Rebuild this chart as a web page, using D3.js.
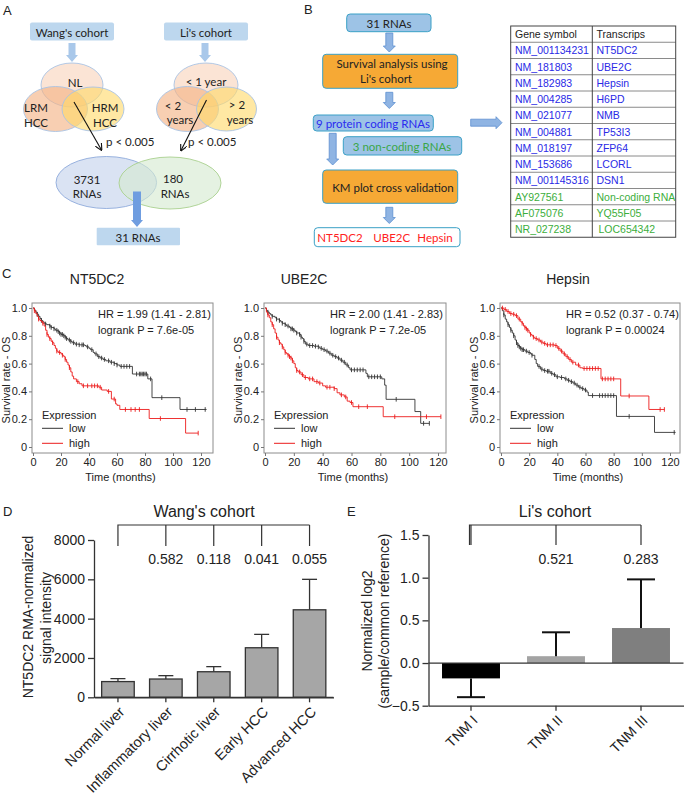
<!DOCTYPE html>
<html><head><meta charset="utf-8">
<script src="https://cdn.jsdelivr.net/npm/d3@7"></script>
<style>body{margin:0;background:#fff}svg{display:block}</style>
</head><body>
<svg id="c" width="685" height="793"></svg>
<script>
// ---------------- DATA ----------------
// Panel B table
const geneSymbols = ["NM_001134231","NM_181803","NM_182983","NM_004285","NM_021077","NM_004881","NM_018197","NM_153686","NM_001145316","AY927561","AF075076","NR_027238"];
const transcripts = ["NT5DC2","UBE2C","Hepsin","H6PD","NMB","TP53I3","ZFP64","LCORL","DSN1","Non-coding RNA","YQ55F05","LOC654342"];
const codingFlags = [1,1,1,1,1,1,1,1,1,0,0,0];

// Panel C: Kaplan-Meier step points [time (months), survival]
const kmTicksY = [0,0.2,0.4,0.6,0.8,1.0];
const kmTicksX = [0,20,40,60,80,100,120];
const kmTitles = ["NT5DC2","UBE2C","Hepsin"];
const kmHR = ["HR = 1.99 (1.41 - 2.81)","HR = 2.00 (1.41 - 2.83)","HR = 0.52 (0.37 - 0.74)"];
const kmP = ["logrank P = 7.6e-05","logrank P = 7.2e-05","logrank P = 0.00024"];

const nt5dc2Low = [[0,1],[1,0.985],[2,0.97],[3,0.955],[4,0.94],[5,0.925],[6,0.91],[7,0.9],[8,0.89],[9,0.885],[10,0.88],[12,0.87],[13,0.86],[15,0.85],[16,0.84],[18,0.83],[19,0.82],[20,0.81],[22,0.8],[23,0.79],[24,0.78],[25,0.77],[27,0.76],[28,0.75],[30,0.74],[33,0.735],[37,0.73],[38,0.72],[40,0.71],[41,0.7],[43,0.68],[44,0.67],[46,0.65],[48,0.64],[50,0.63],[52,0.62],[55,0.61],[58,0.6],[60,0.59],[62,0.58],[71,0.525],[82,0.49],[85,0.355],[105,0.27],[124,0.27]];
const nt5dc2High = [[0,1],[1,0.98],[2,0.96],[3,0.94],[4,0.92],[5,0.91],[6,0.9],[7,0.89],[8,0.87],[9,0.84],[10,0.81],[11,0.79],[12,0.78],[13,0.76],[14,0.75],[15,0.73],[16,0.71],[17,0.69],[18,0.68],[20,0.67],[21,0.66],[22,0.65],[23,0.63],[24,0.61],[25,0.59],[26,0.57],[27,0.54],[28,0.51],[29,0.49],[31,0.47],[33,0.455],[35,0.44],[47,0.43],[49,0.41],[53,0.4],[56,0.345],[59,0.31],[60,0.3],[62,0.27],[83,0.205],[109,0.1],[118,0.1]];
const nt5dc2LowCens = [3,6,9,12,13,15,17,18,19,20,21,22,23,24,26,27,29,31,33,35,36,39,42,45,47,49,51,54,56,58,60,63,65,67,69,74,76,77,78,79,80,81,84,92,110,116,123];
const nt5dc2HighCens = [1,4,7,10,12,14,17,19,21,23,26,32,36,39,42,44,46,48,54,58,66,70,73,76,91,118];

const ube2cLow = [[0,1],[1,0.98],[2,0.97],[3,0.96],[4,0.95],[5,0.94],[7,0.93],[8,0.92],[10,0.91],[11,0.9],[12,0.89],[14,0.88],[15,0.87],[17,0.86],[18,0.85],[20,0.84],[21,0.83],[22,0.82],[24,0.81],[25,0.79],[26,0.78],[27,0.76],[28,0.74],[30,0.73],[34,0.725],[37,0.72],[38,0.71],[40,0.7],[42,0.69],[44,0.675],[46,0.66],[48,0.65],[50,0.64],[52,0.625],[54,0.61],[56,0.59],[58,0.57],[59,0.555],[70,0.53],[71,0.505],[81,0.49],[83,0.445],[84,0.343],[104,0.255],[108,0.17],[114,0.17]];
const ube2cHigh = [[0,1],[1,0.97],[2,0.95],[3,0.93],[4,0.9],[5,0.88],[6,0.85],[7,0.82],[8,0.79],[9,0.77],[10,0.75],[11,0.74],[12,0.72],[13,0.7],[14,0.68],[15,0.67],[16,0.66],[17,0.65],[18,0.64],[19,0.62],[20,0.6],[21,0.57],[22,0.55],[23,0.54],[25,0.52],[27,0.5],[30,0.49],[34,0.47],[37,0.46],[40,0.44],[42,0.43],[48,0.42],[50,0.39],[52,0.375],[55,0.36],[57,0.33],[59,0.32],[61,0.29],[82,0.218],[122,0.218]];
const ube2cLowCens = [2,5,8,10,12,14,16,18,19,20,22,24,25,27,29,31,33,35,37,39,41,43,45,47,49,51,53,55,57,60,62,64,66,68,72,74,76,78,80,91,110,114];
const ube2cHighCens = [2,5,8,10,12,14,16,17,18,19,22,24,26,28,31,33,36,38,43,45,48,53,56,60,65,71,90,112,122];

const hepsinLow = [[0,1],[1,0.98],[2,0.95],[3,0.92],[4,0.9],[5,0.88],[6,0.86],[7,0.84],[8,0.82],[9,0.8],[10,0.77],[11,0.75],[12,0.73],[13,0.72],[14,0.71],[15,0.7],[17,0.69],[19,0.68],[21,0.67],[22,0.66],[24,0.63],[25,0.6],[26,0.58],[28,0.56],[30,0.55],[32,0.545],[35,0.53],[37,0.52],[39,0.505],[42,0.5],[45,0.49],[47,0.48],[49,0.47],[51,0.46],[53,0.445],[55,0.43],[57,0.42],[59,0.41],[61,0.395],[62,0.37],[82,0.22],[109,0.105],[124,0.105]];
const hepsinHigh = [[0,1],[2,0.99],[4,0.975],[6,0.96],[8,0.955],[10,0.945],[12,0.92],[14,0.9],[15,0.89],[16,0.87],[17,0.86],[18,0.85],[19,0.84],[20,0.82],[21,0.81],[22,0.8],[23,0.79],[24,0.78],[26,0.77],[28,0.755],[30,0.745],[32,0.735],[38,0.73],[40,0.71],[42,0.69],[44,0.67],[46,0.65],[48,0.63],[50,0.61],[53,0.59],[56,0.57],[58,0.565],[71,0.49],[85,0.367],[105,0.27],[116,0.27]];
const hepsinLowCens = [2,5,7,9,11,12,13,14,15,16,18,20,22,27,29,31,33,34,36,38,40,43,46,48,50,52,54,56,58,60,65,70,72,74,76,78,80,91,123];
const hepsinHighCens = [1,3,5,7,9,11,13,15,17,18,19,21,23,25,27,29,31,33,35,37,39,41,43,45,47,49,51,55,59,61,63,65,67,69,72,74,76,78,80,91,113,116];

// Panel D
const dCategories = ["Normal liver","Inflammatory liver","Cirrhotic liver","Early HCC","Advanced HCC"];
const dMeans = [800, 930, 1300, 2520, 4450];
const dErrors = [150, 170, 260, 680, 1550];
const dPValues = ["", "0.582", "0.118", "0.041", "0.055"];
const dTicks = [0, 2000, 4000, 6000, 8000];

// Panel E
const eCategories = ["TNM I","TNM II","TNM III"];
const eMeans = [-0.18, 0.08, 0.41];
const eErrors = [0.22, 0.28, 0.57];
const ePValues = ["", "0.521", "0.283"];
const eTicks = [-0.5, 0, 0.5, 1.0, 1.5];

// ---------------- DRAWING ----------------
const svg = d3.select("#c");
const AR = "'Liberation Sans', Arial, sans-serif";
const FL = "Lato, 'Open Sans', sans-serif";

function txt(g, x, y, s, o = {}) {
  return g.append("text").attr("x", x).attr("y", y).text(s)
    .attr("font-family", o.f || AR).attr("font-size", o.s || 12)
    .attr("fill", o.c || "#222").attr("text-anchor", o.a || "start")
    .attr("dominant-baseline", o.b || "central");
}
function downArrow(g, cx, y1, y2, fill, sw = 7, hw = 12, hl = 7, stroke = "none") {
  const p = `M${cx - sw/2},${y1}L${cx + sw/2},${y1}L${cx + sw/2},${y2 - hl}L${cx + hw/2},${y2 - hl}L${cx},${y2}L${cx - hw/2},${y2 - hl}L${cx - sw/2},${y2 - hl}Z`;
  g.append("path").attr("d", p).attr("fill", fill).attr("stroke", stroke).attr("stroke-width", 0.8);
}
function rightArrow(g, x1, x2, cy, fill, sw = 7, hw = 12, hl = 7, stroke = "none") {
  const p = `M${x1},${cy - sw/2}L${x2 - hl},${cy - sw/2}L${x2 - hl},${cy - hw/2}L${x2},${cy}L${x2 - hl},${cy + hw/2}L${x2 - hl},${cy + sw/2}L${x1},${cy + sw/2}Z`;
  g.append("path").attr("d", p).attr("fill", fill).attr("stroke", stroke).attr("stroke-width", 0.8);
}

// Panel letters
txt(svg, 3, 10, "A", {s: 13});
txt(svg, 304, 9, "B", {s: 13});
txt(svg, 2, 273, "C", {s: 13});
txt(svg, 3, 511, "D", {s: 13});
txt(svg, 347, 511, "E", {s: 13});

svg.append("defs").append("marker").attr("id", "ah").attr("viewBox", "0 0 10 10")
  .attr("refX", 9).attr("refY", 5).attr("markerWidth", 7).attr("markerHeight", 7)
  .attr("orient", "auto").attr("markerUnits", "userSpaceOnUse")
  .append("path").attr("d", "M0,0L10,5L0,10").attr("fill", "none").attr("stroke", "#111").attr("stroke-width", 1.6);

// ---- Panel A ----
const A = svg.append("g");
const lightBlue = "#bdd7ee";
A.append("rect").attr("x", 30).attr("y", 22.5).attr("width", 84).attr("height", 18).attr("rx", 2).attr("fill", lightBlue);
txt(A, 72, 32, "Wang's cohort", {f: FL, s: 11.5, a: "middle"});
A.append("rect").attr("x", 164).attr("y", 22.5).attr("width", 84).attr("height", 18).attr("rx", 2).attr("fill", lightBlue);
txt(A, 206, 32, "Li's cohort", {f: FL, s: 11.5, a: "middle"});
downArrow(A, 72, 43, 62, "#a9c8ea");
downArrow(A, 205, 43, 62, "#a9c8ea");

function ell(g, cx, cy, rx, ry, fill, op, stroke) {
  g.append("ellipse").attr("cx", cx).attr("cy", cy).attr("rx", rx).attr("ry", ry)
    .attr("fill", fill).attr("fill-opacity", op).attr("stroke", stroke).attr("stroke-width", 0.9);
}
ell(A, 72, 85, 31, 22, "#fbe4d5", 1, "#a9c3e3");
ell(A, 55.5, 109, 32, 22.5, "#f4b183", 0.62, "#a9c3e3");
ell(A, 93, 109, 31, 22, "#ffd966", 0.6, "#a9c3e3");
txt(A, 75, 82, "NL", {f: FL, s: 11.5, a: "middle"});
txt(A, 36, 107, "LRM", {f: FL, s: 11.5, a: "middle"});
txt(A, 36, 122, "HCC", {f: FL, s: 11.5, a: "middle"});
txt(A, 105, 107, "HRM", {f: FL, s: 11.5, a: "middle"});
txt(A, 105, 122, "HCC", {f: FL, s: 11.5, a: "middle"});

ell(A, 206, 85, 32, 22, "#fbe4d5", 1, "#a9c3e3");
ell(A, 187.5, 109, 31, 22.5, "#f4b183", 0.62, "#a9c3e3");
ell(A, 226.5, 109, 30, 22, "#ffd966", 0.6, "#a9c3e3");
txt(A, 206, 81, "< 1 year", {f: FL, s: 11.5, a: "middle"});
txt(A, 173, 105, "< 2", {f: FL, s: 11.5, a: "middle"});
txt(A, 180, 119, "years", {f: FL, s: 11.5, a: "middle"});
txt(A, 237, 104, "> 2", {f: FL, s: 11.5, a: "middle"});
txt(A, 240, 119, "years", {f: FL, s: 11.5, a: "middle"});

A.append("line").attr("x1", 74).attr("y1", 102).attr("x2", 101.5).attr("y2", 150).attr("stroke", "#111").attr("stroke-width", 1.1).attr("marker-end", "url(#ah)");
A.append("line").attr("x1", 206.5).attr("y1", 100).attr("x2", 181).attr("y2", 150.5).attr("stroke", "#111").attr("stroke-width", 1.1).attr("marker-end", "url(#ah)");
txt(A, 106, 141.5, "p < 0.005", {f: FL, s: 11.5});
txt(A, 188, 141.5, "p < 0.005", {f: FL, s: 11.5});

ell(A, 106.3, 182.5, 50.3, 26, "#dae3f3", 1, "#8eaadb");
ell(A, 170, 183, 51, 26, "#d5ead0", 0.62, "#a9d08e");
txt(A, 87, 179.5, "3731", {f: FL, s: 11.5, a: "middle"});
txt(A, 87, 193.5, "RNAs", {f: FL, s: 11.5, a: "middle"});
txt(A, 173, 178, "180", {f: FL, s: 11.5, a: "middle"});
txt(A, 175, 193, "RNAs", {f: FL, s: 11.5, a: "middle"});
downArrow(A, 137, 191.5, 227, "#6f9de0", 8, 12, 7);
A.append("rect").attr("x", 96.7).attr("y", 227.7).attr("width", 83.3).attr("height", 17.5).attr("rx", 1).attr("fill", lightBlue);
txt(A, 138, 237, "31  RNAs", {f: FL, s: 11.5, a: "middle"});

// ---- Panel B ----
const B = svg.append("g");
const bBlue = "#9dc3e6", teal = "#3aa0c6", orange = "#f6a935", arrowFill = "#8fb4e3", arrowStroke = "#5d8fd0";
function box(g, x, y, w, h, fill) {
  g.append("rect").attr("x", x).attr("y", y).attr("width", w).attr("height", h).attr("rx", 3.5)
    .attr("fill", fill).attr("stroke", teal).attr("stroke-width", 1);
}
box(B, 346.7, 14, 84.3, 17.7, bBlue);
txt(B, 389, 23, "31 RNAs", {f: FL, s: 11.5, a: "middle"});
downArrow(B, 389.3, 33, 52, arrowFill, 7, 12, 6, arrowStroke);
box(B, 322.7, 54.3, 135, 34, orange);
txt(B, 392, 63.5, "Survival analysis using", {f: FL, s: 11.5, a: "middle"});
txt(B, 386, 78.5, "Li's cohort", {f: FL, s: 11.5, a: "middle"});
downArrow(B, 389.3, 92.3, 108.5, arrowFill, 7, 12, 6, arrowStroke);
box(B, 313.3, 115, 120, 16, bBlue);
txt(B, 373, 123, "9 protein coding RNAs", {f: FL, s: 11.5, a: "middle", c: "#2b2bf0"});
box(B, 343.3, 136.7, 118.4, 18.3, bBlue);
txt(B, 402, 146, "3 non-coding RNAs", {f: FL, s: 11.5, a: "middle", c: "#3aa648"});
downArrow(B, 332.7, 133.3, 165, arrowFill, 7, 12, 6, arrowStroke);
box(B, 322.7, 170, 135, 33.3, orange);
txt(B, 393, 187, "KM plot cross validation", {f: FL, s: 11.5, a: "middle"});
downArrow(B, 389.3, 207.3, 223.5, arrowFill, 7, 12, 6, arrowStroke);
box(B, 314.3, 227.7, 145.7, 19, "#fff");
txt(B, 340, 237, "NT5DC2", {f: FL, s: 11.5, a: "middle", c: "#ff2222"});
txt(B, 391.7, 237, "UBE2C", {f: FL, s: 11.5, a: "middle", c: "#ff2222"});
txt(B, 435, 237, "Hepsin", {f: FL, s: 11.5, a: "middle", c: "#ff2222"});
rightArrow(B, 470.7, 502, 122.7, arrowFill, 7, 12, 6, arrowStroke);

// Table
const T = svg.append("g");
const tX0 = 510.7, tX1 = 592.3, tX2 = 675.7, tY0 = 26, rowH = 16.25;
const nRows = geneSymbols.length + 1;
for (let i = 1; i < nRows; i++) {
  T.append("line").attr("x1", tX0).attr("x2", tX2).attr("y1", tY0 + i * rowH).attr("y2", tY0 + i * rowH).attr("stroke", "#8a8a8a").attr("stroke-width", 1);
}
T.append("line").attr("x1", tX1).attr("x2", tX1).attr("y1", tY0).attr("y2", tY0 + nRows * rowH).attr("stroke", "#444");
T.append("rect").attr("x", tX0).attr("y", tY0).attr("width", tX2 - tX0).attr("height", nRows * rowH).attr("fill", "none").attr("stroke", "#444");
txt(T, 515, tY0 + rowH / 2, "Gene symbol", {s: 10.5});
txt(T, 596.5, tY0 + rowH / 2, "Transcrips", {s: 10.5});
geneSymbols.forEach((g, i) => {
  const c = codingFlags[i] ? "#2a2ae6" : "#3cae3c";
  const yy = tY0 + rowH * (i + 1.5);
  txt(T, 515, yy, g, {s: 10.5, c});
  txt(T, i === 11 ? 598.5 : 596.5, yy, transcripts[i], {s: 10.5, c});
});

// ---- Panel C ----
function stepAt(data, t) {
  let s = data[0][1];
  for (const d of data) { if (d[0] <= t) s = d[1]; else break; }
  return s;
}
const kmCfg = [
  {fl: 32, fr: 213, x0: 33, x120: 201, tx: 97, low: nt5dc2Low, high: nt5dc2High, lc: nt5dc2LowCens, hc: nt5dc2HighCens},
  {fl: 264, fr: 446, x0: 265, x120: 438, tx: 304, low: ube2cLow, high: ube2cHigh, lc: ube2cLowCens, hc: ube2cHighCens},
  {fl: 500, fr: 680, x0: 501, x120: 670, tx: 568, low: hepsinLow, high: hepsinHigh, lc: hepsinLowCens, hc: hepsinHighCens}
];
kmCfg.forEach((cfg, k) => {
  const g = svg.append("g");
  const x = d3.scaleLinear().domain([0, 120]).range([cfg.x0, cfg.x120]);
  const y = d3.scaleLinear().domain([0, 1]).range([447, 308]);
  txt(g, cfg.tx, 279, kmTitles[k], {s: 14, a: "middle"});
  g.append("rect").attr("x", cfg.fl).attr("y", 303).attr("width", cfg.fr - cfg.fl).attr("height", 150)
    .attr("fill", "none").attr("stroke", "#8c8c8c").attr("stroke-width", 1);
  const ay = g.append("g").attr("transform", `translate(${cfg.fl},0)`)
    .call(d3.axisLeft(y).tickValues(kmTicksY).tickFormat(d => d === 0 ? "0" : d3.format(".1f")(d)).tickSize(3).tickPadding(2));
  const ax = g.append("g").attr("transform", `translate(0,453)`)
    .call(d3.axisBottom(x).tickValues(kmTicksX).tickSize(3).tickPadding(2));
  [ay, ax].forEach(a => {
    a.select(".domain").remove();
    a.selectAll("line").attr("stroke", "#777");
    a.selectAll("text").attr("font-family", AR).attr("font-size", 11).attr("fill", "#222");
  });
  txt(g, (cfg.fl + cfg.fr) / 2 - 2, 476.5, "Time (months)", {s: 11, a: "middle"});
  g.append("text").attr("transform", `translate(${cfg.fl - 26},380) rotate(-90)`).text("Survival rate - OS")
    .attr("font-family", AR).attr("font-size", 11).attr("fill", "#222").attr("text-anchor", "middle").attr("dominant-baseline", "central");
  txt(g, cfg.fl + 66, 313.5, kmHR[k], {s: 11});
  txt(g, cfg.fl + 66, 330, kmP[k], {s: 11});
  const line = d3.line().x(d => x(d[0])).y(d => y(d[1])).curve(d3.curveStepAfter);
  const series = [
    {d: cfg.low, c: cfg.lc, col: "#333"},
    {d: cfg.high, c: cfg.hc, col: "#ec1c1c"}
  ];
  series.forEach(s => {
    g.append("path").attr("d", line(s.d)).attr("fill", "none").attr("stroke", s.col).attr("stroke-width", 0.9);
    g.selectAll(null).data(s.c).enter().append("line")
      .attr("x1", t => x(t)).attr("x2", t => x(t))
      .attr("y1", t => y(stepAt(s.d, t)) - 2.3).attr("y2", t => y(stepAt(s.d, t)) + 2.3)
      .attr("stroke", s.col).attr("stroke-width", 0.9);
  });
  // legend
  txt(g, cfg.fl + 10, 415, "Expression", {s: 11});
  g.append("line").attr("x1", cfg.fl + 10).attr("x2", cfg.fl + 31).attr("y1", 428.3).attr("y2", 428.3).attr("stroke", "#333");
  txt(g, cfg.fl + 37, 428.3, "low", {s: 11});
  g.append("line").attr("x1", cfg.fl + 10).attr("x2", cfg.fl + 31).attr("y1", 443.3).attr("y2", 443.3).attr("stroke", "#ec1c1c");
  txt(g, cfg.fl + 37, 443.3, "high", {s: 11});
});

// ---- Panel D ----
const D = svg.append("g");
const dx = d3.scaleBand().domain(dCategories).range([94, 333.5]).paddingInner(0.32).paddingOuter(0.16);
const dy = d3.scaleLinear().domain([0, 8000]).range([697.3, 540]);
D.selectAll(null).data(dCategories).enter().append("line")
  .attr("x1", c => dx(c) + dx.bandwidth() / 2).attr("x2", c => dx(c) + dx.bandwidth() / 2)
  .attr("y1", (c, i) => dy(dMeans[i])).attr("y2", (c, i) => dy(dMeans[i] + dErrors[i]))
  .attr("stroke", "#333").attr("stroke-width", 1.3);
D.selectAll(null).data(dCategories).enter().append("line")
  .attr("x1", c => dx(c) + dx.bandwidth() / 2 - 7.5).attr("x2", c => dx(c) + dx.bandwidth() / 2 + 7.5)
  .attr("y1", (c, i) => dy(dMeans[i] + dErrors[i])).attr("y2", (c, i) => dy(dMeans[i] + dErrors[i]))
  .attr("stroke", "#333").attr("stroke-width", 1.3);
D.selectAll(null).data(dCategories).enter().append("rect")
  .attr("x", c => dx(c)).attr("width", dx.bandwidth())
  .attr("y", (c, i) => dy(dMeans[i])).attr("height", (c, i) => dy(0) - dy(dMeans[i]))
  .attr("fill", "#a6a6a6").attr("stroke", "#333").attr("stroke-width", 1.3);
const dAy = D.append("g").attr("transform", "translate(94,0)").call(d3.axisLeft(dy).tickValues(dTicks).tickFormat(d3.format("d")).tickSize(6).tickPadding(3).tickSizeOuter(0));
const dAx = D.append("g").attr("transform", `translate(0,${dy(0)})`).call(d3.axisBottom(dx).tickSize(5).tickSizeOuter(0).tickFormat(""));
D.append("line").attr("x1", 94).attr("x2", 333.5).attr("y1", dy(0)).attr("y2", dy(0)).attr("stroke", "#333").attr("stroke-width", 1.3);
[dAy, dAx].forEach(a => {
  a.selectAll("path,line").attr("stroke", "#333").attr("stroke-width", 1.3);
  a.selectAll("text").attr("font-family", AR).attr("font-size", 14).attr("fill", "#222");
});
dCategories.forEach(c => {
  D.append("text").attr("transform", `translate(${dx(c) + dx.bandwidth() / 2 + 4},${dy(0) + 12}) rotate(-45)`)
    .text(c).attr("font-family", AR).attr("font-size", 14.5).attr("fill", "#222").attr("text-anchor", "end").attr("dominant-baseline", "central");
});
const dCx = dCategories.map(c => dx(c) + dx.bandwidth() / 2);
let dPath = `M${dCx[0]},546V525H${dCx[dCx.length - 1]}`;
dCx.forEach(cx => { dPath += `M${cx},525V546`; });
D.append("path").attr("d", dPath).attr("fill", "none").attr("stroke", "#333").attr("stroke-width", 1.2);
dPValues.forEach((p, i) => { if (p) txt(D, dCx[i], 558.5, p, {s: 14, a: "middle"}); });
txt(D, 204, 511, "Wang's cohort", {s: 16, a: "middle"});
D.append("text").attr("transform", "translate(28,617) rotate(-90)").text("NT5DC2 RMA-normalized")
  .attr("font-family", AR).attr("font-size", 14).attr("fill", "#222").attr("text-anchor", "middle").attr("dominant-baseline", "central");
D.append("text").attr("transform", "translate(46,618) rotate(-90)").text("signal intensity")
  .attr("font-family", AR).attr("font-size", 14).attr("fill", "#222").attr("text-anchor", "middle").attr("dominant-baseline", "central");

// ---- Panel E ----
const E = svg.append("g");
const ex = d3.scaleBand().domain(eCategories).range([428.5, 683.5]).paddingInner(0.318).paddingOuter(0.159);
const ey = d3.scaleLinear().domain([-0.5, 1.5]).range([705.7, 535]);
const eFill = ["#000000", "#a3a3a3", "#7f7f7f"];
E.selectAll(null).data(eCategories).enter().append("rect")
  .attr("x", c => ex(c)).attr("width", ex.bandwidth())
  .attr("y", (c, i) => ey(Math.max(0, eMeans[i]))).attr("height", (c, i) => Math.abs(ey(eMeans[i]) - ey(0)))
  .attr("fill", (c, i) => eFill[i]);
eCategories.forEach((c, i) => {
  const cx = ex(c) + ex.bandwidth() / 2;
  const end = eMeans[i] < 0 ? eMeans[i] - eErrors[i] : eMeans[i] + eErrors[i];
  E.append("line").attr("x1", cx).attr("x2", cx).attr("y1", ey(eMeans[i])).attr("y2", ey(end)).attr("stroke", "#111").attr("stroke-width", 2);
  E.append("line").attr("x1", cx - 14).attr("x2", cx + 14).attr("y1", ey(end)).attr("y2", ey(end)).attr("stroke", "#111").attr("stroke-width", 2);
});
E.append("line").attr("x1", 428.5).attr("x2", 683.5).attr("y1", ey(0)).attr("y2", ey(0)).attr("stroke", "#333").attr("stroke-width", 1.3);
const eAy = E.append("g").attr("transform", "translate(428.5,0)").call(d3.axisLeft(ey).tickValues(eTicks).tickFormat(d3.format(".1f")).tickSize(6).tickPadding(3).tickSizeOuter(0));
const eAx = E.append("g").attr("transform", `translate(0,${ey(-0.5)})`).call(d3.axisBottom(ex).tickSize(5).tickSizeOuter(0).tickFormat(""));
[eAy, eAx].forEach(a => {
  a.selectAll("path,line").attr("stroke", "#333").attr("stroke-width", 1.3);
  a.selectAll("text").attr("font-family", AR).attr("font-size", 14).attr("fill", "#222");
});
eCategories.forEach(c => {
  E.append("text").attr("transform", `translate(${ex(c) + ex.bandwidth() / 2 + 4},${ey(-0.5) + 12}) rotate(-45)`)
    .text(c).attr("font-family", AR).attr("font-size", 14).attr("fill", "#222").attr("text-anchor", "end").attr("dominant-baseline", "central");
});
const eCx = eCategories.map(c => ex(c) + ex.bandwidth() / 2);
let ePath = `M${eCx[0] - 1.5},545V525H${eCx[eCx.length - 1]}`;
eCx.forEach(cx => { ePath += `M${cx},525V545`; });
E.append("path").attr("d", ePath).attr("fill", "none").attr("stroke", "#333").attr("stroke-width", 1.2);
ePValues.forEach((p, i) => { if (p) txt(E, eCx[i], 558.5, p, {s: 14, a: "middle"}); });
txt(E, 555, 511, "Li's cohort", {s: 16, a: "middle"});
E.append("text").attr("transform", "translate(367,621) rotate(-90)").text("Normalized log2")
  .attr("font-family", AR).attr("font-size", 14).attr("fill", "#222").attr("text-anchor", "middle").attr("dominant-baseline", "central");
E.append("text").attr("transform", "translate(384,621) rotate(-90)").text("(sample/common reference)")
  .attr("font-family", AR).attr("font-size", 14).attr("fill", "#222").attr("text-anchor", "middle").attr("dominant-baseline", "central");
</script>
</body></html>
